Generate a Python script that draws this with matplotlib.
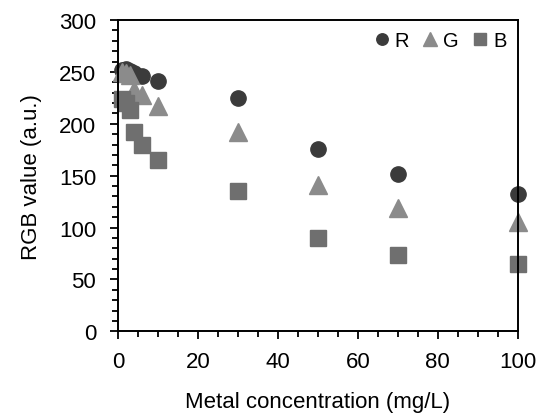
import matplotlib
matplotlib.use("Agg")
import matplotlib.pyplot as plt
from matplotlib.ticker import MultipleLocator

plt.rcParams["font.family"] = ["Liberation Sans", "DejaVu Sans"]

CONC = [1, 2, 3, 4, 6, 10, 30, 50, 70, 100]
R_VALUES = [252, 253, 251, 249, 246, 241, 225, 176, 152, 132]
G_VALUES = [250, 249, 247, 233, 228, 217, 192, 141, 119, 105]
B_VALUES = [224, 220, 213, 192, 180, 165, 135, 90, 74, 65]

COLORS = {"R": "#3b3b3b", "G": "#8b8b8b", "B": "#6f6f6f"}


def main() -> None:
    fig = plt.figure(figsize=(5.46, 4.14), dpi=100)
    axis = fig.add_axes([0.2167, 0.1973, 0.7315, 0.752])
    axis.plot(CONC, R_VALUES, "o", markersize=11, color=COLORS["R"], label="R", linestyle="none", clip_on=False)
    axis.plot(CONC, G_VALUES, "^", markersize=13, color=COLORS["G"], label="G", linestyle="none", clip_on=False)
    axis.plot(CONC, B_VALUES, "s", markersize=11, color=COLORS["B"], label="B", linestyle="none", clip_on=False)

    axis.set_xlim(0, 100)
    axis.set_ylim(0, 300)
    axis.xaxis.set_major_locator(MultipleLocator(20))
    axis.xaxis.set_minor_locator(MultipleLocator(5))
    axis.yaxis.set_major_locator(MultipleLocator(50))
    axis.yaxis.set_minor_locator(MultipleLocator(10))
    axis.tick_params(which="both", direction="out", top=False, right=False, width=1.3, labelsize=16)
    axis.tick_params(which="major", length=6)
    axis.tick_params(which="minor", length=4)
    axis.tick_params(axis="x", which="major", pad=8)
    axis.tick_params(axis="y", which="major", pad=10)
    for spine in axis.spines.values():
        spine.set_linewidth(1.4)
        spine.set_color("black")

    axis.set_xlabel("Metal concentration (mg/L)", fontsize=16, labelpad=14)
    axis.set_ylabel("RGB value (a.u.)", fontsize=16, labelpad=12)

    axis.legend(loc="upper right", ncol=3, frameon=False, fontsize=14.5, markerscale=0.75,
                handlelength=0.6, handletextpad=0.35, columnspacing=0.75,
                borderaxespad=0.45, borderpad=0.1)

    fig.savefig("out.png", dpi=100)
    plt.close(fig)


if __name__ == "__main__":
    main()
